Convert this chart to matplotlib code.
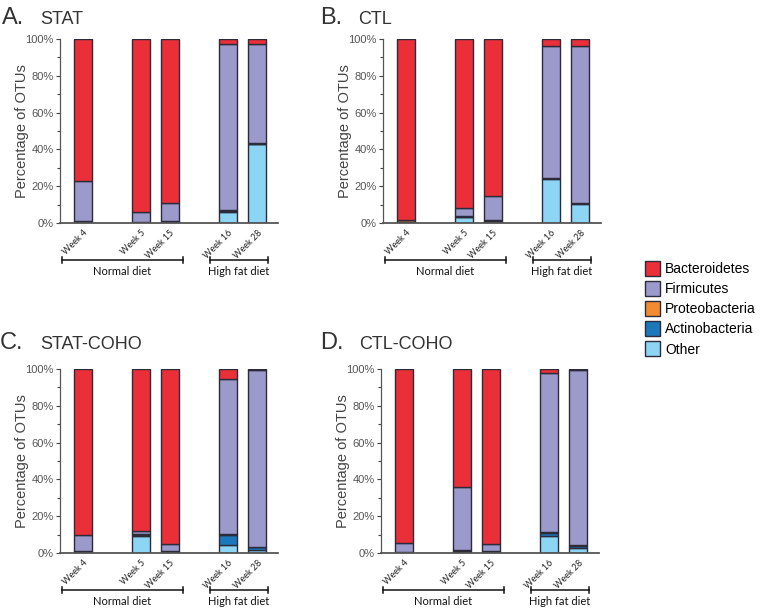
import matplotlib
matplotlib.use('Agg')
import matplotlib.pyplot as plt
from matplotlib.patches import Patch
from matplotlib.ticker import MultipleLocator
import numpy as np

weeks = ['Week 4', 'Week 5', 'Week 15', 'Week 16', 'Week 28']
xpos = [0, 2, 3, 5, 6]
phyla = ['Other', 'Actinobacteria', 'Proteobacteria', 'Firmicutes', 'Bacteroidetes']
colors = {'Bacteroidetes': '#ea2f38', 'Firmicutes': '#9c99cb', 'Proteobacteria': '#f38b33',
          'Actinobacteria': '#1b78ba', 'Other': '#8dd5f5'}

# percentages per week, stacked bottom -> top
stat_other = [0.3, 0.2, 0.5, 6.0, 43.0]
stat_actino = [0.3, 0.2, 0.3, 0.5, 0.2]
stat_proteo = [0.5, 0.3, 0.5, 0.7, 0.3]
stat_firm = [21.5, 5.3, 9.3, 90.0, 54.0]
stat_bact = [77.4, 94.0, 89.4, 2.8, 2.5]

ctl_other = [0.3, 3.0, 0.8, 24.0, 10.5]
ctl_actino = [0.3, 0.3, 0.3, 0.2, 0.2]
ctl_proteo = [0.8, 0.3, 0.3, 0.3, 0.3]
ctl_firm = [0.2, 4.8, 13.5, 71.5, 85.0]
ctl_bact = [98.4, 91.6, 85.1, 4.0, 4.0]

statc_other = [0.3, 9.5, 0.5, 4.5, 1.5]
statc_actino = [0.3, 0.5, 0.2, 5.5, 1.5]
statc_proteo = [0.5, 0.5, 0.3, 0.3, 0.3]
statc_firm = [8.5, 1.5, 4.0, 84.0, 96.0]
statc_bact = [90.4, 88.0, 95.0, 5.7, 0.7]

ctlc_other = [0.2, 0.5, 0.5, 9.5, 2.8]
ctlc_actino = [0.2, 0.5, 0.2, 1.5, 1.0]
ctlc_proteo = [0.2, 0.5, 0.2, 0.3, 0.3]
ctlc_firm = [4.6, 34.5, 4.0, 86.5, 95.4]
ctlc_bact = [94.8, 64.0, 95.1, 2.2, 0.5]

panels = [
    ('A.', 'STAT', [stat_other, stat_actino, stat_proteo, stat_firm, stat_bact]),
    ('B.', 'CTL', [ctl_other, ctl_actino, ctl_proteo, ctl_firm, ctl_bact]),
    ('C.', 'STAT-COHO', [statc_other, statc_actino, statc_proteo, statc_firm, statc_bact]),
    ('D.', 'CTL-COHO', [ctlc_other, ctlc_actino, ctlc_proteo, ctlc_firm, ctlc_bact]),
]

W, H = 760, 608
fig = plt.figure(figsize=(7.6, 6.08), dpi=100)

# axes boxes in pixels: left, top
boxes = [(60, 39), (383, 39), (60, 369), (381, 369)]
titles_px = [(2, 24, 40), (320, 24, 358), (0, 349, 40), (320, 349, 359)]
aw, ah = 218, 184
edge = '#2b2b3a'

for (letter, name, series), (lx, ty), (tx1, tyb, tx2) in zip(panels, boxes, titles_px):
    ax = fig.add_axes([lx / W, 1 - (ty + ah) / H, aw / W, ah / H])
    bottom = np.zeros(len(xpos))
    for ph, vals in zip(phyla, series):
        ax.bar(xpos, vals, width=0.62, bottom=bottom, color=colors[ph],
               edgecolor=edge, linewidth=1.0)
        bottom += np.array(vals)
    ax.set_xlim(-0.79, 6.72)
    ax.set_ylim(0, 100)
    ax.yaxis.set_minor_locator(MultipleLocator(10))
    ax.set_yticks(range(0, 101, 20))
    ax.set_yticklabels([f'{v}%' for v in range(0, 101, 20)], fontsize=8,
                       color='#555555', family='Liberation Sans')
    ax.tick_params(axis='y', which='major', length=3, width=0.8, color='#444444', pad=1.5)
    ax.tick_params(axis='y', which='minor', length=2, width=0.8, color='#444444')
    ax.set_xticks(xpos)
    ax.set_xticklabels(weeks, rotation=45, ha='right', va='top', rotation_mode='anchor',
                       fontsize=6.5, family='Lato', color='#222222')
    ax.tick_params(axis='x', length=0, pad=4)
    for sp in ['top', 'right']:
        ax.spines[sp].set_visible(False)
    ax.spines['left'].set_color('#555555')
    ax.spines['bottom'].set_color('#555555')
    ax.spines['left'].set_linewidth(0.9)
    ax.spines['bottom'].set_linewidth(1.3)
    ax.set_ylabel('Percentage of OTUs', fontsize=10.5, color='#444444',
                  family='Liberation Sans')
    ax.yaxis.set_label_coords(-0.14, 0.5)

    # diet brackets
    tr = ax.get_xaxis_transform()
    for x0, x1, lab in [(-0.72, 3.45, 'Normal diet'), (4.38, 6.38, 'High fat diet')]:
        ax.plot([x0, x1], [-0.2, -0.2], color='#111111', lw=1.1, transform=tr, clip_on=False)
        for xe in (x0, x1):
            ax.plot([xe, xe], [-0.215, -0.185], color='#111111', lw=1.1,
                    transform=tr, clip_on=False)
        ax.text((x0 + x1) / 2, -0.235, lab, transform=tr, ha='center', va='top',
                fontsize=8, family='Lato', color='#111111')

    fig.text(tx1 / W, 1 - tyb / H, letter, fontsize=17, color='#333333',
             family='Liberation Sans', va='baseline')
    fig.text(tx2 / W, 1 - tyb / H, name, fontsize=13, color='#333333',
             family='Liberation Sans', va='baseline')

legend_order = ['Bacteroidetes', 'Firmicutes', 'Proteobacteria', 'Actinobacteria', 'Other']
handles = [Patch(facecolor=colors[p], edgecolor=edge, linewidth=1.0, label=p) for p in legend_order]
fig.legend(handles=handles, loc='upper left', bbox_to_anchor=(645 / W, 1 - 261 / H),
           frameon=False, handlelength=1.1, handleheight=1.3,
           labelspacing=0.35, handletextpad=0.35, borderpad=0, borderaxespad=0,
           prop={'family': 'Liberation Sans', 'size': 10})

fig.savefig('out.png', dpi=100)
